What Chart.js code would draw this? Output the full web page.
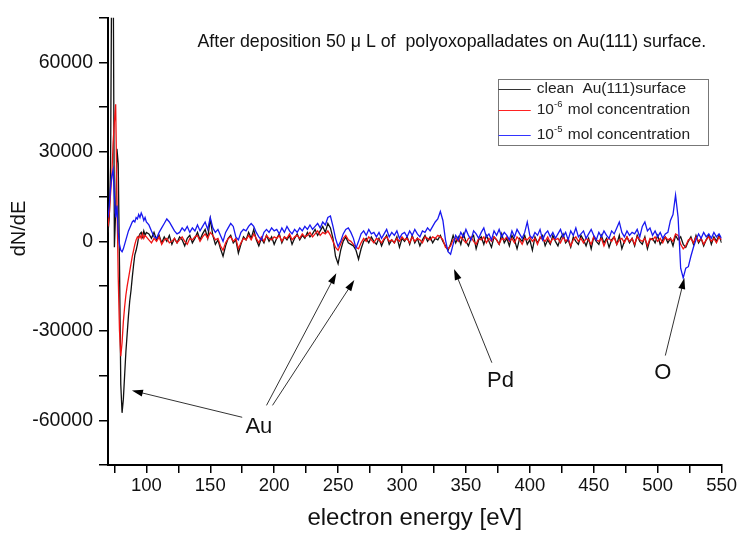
<!DOCTYPE html>
<html>
<head>
<meta charset="utf-8">
<script src="https://cdn.jsdelivr.net/npm/chart.js@4.4.0/dist/chart.umd.min.js"></script>
<style>
  html, body { margin: 0; padding: 0; background: #fff; }
</style>
</head>
<body>
<canvas id="spectrum" width="739" height="537"></canvas>
<script>
// energy grid: 1 eV steps up to 100 eV, 2 eV steps after that
const energies = [];
for (let e = 70; e <= 100; e++) energies.push(e);
for (let e = 102; e <= 550; e += 2) energies.push(e);

// clean Au(111) surface
const clean = [
  // 70-100
  3000, 8000, 25000, 100000, 100000, -2000, 10000, 31000, 26000, -8000,
  -48000, -57500, -53000, -45000, -37000, -31000, -25000, -20000, -16500, -12000,
  -8000, -4500, -3000, -1000, 1500, 2500, 3000, 1500, 3500, 2000, 3000,
  // 102-120
  2500, 1000, 3000, 500, 2000, -500, 1500, 0, 2000, -1000,
  // 122-140
  1000, -500, 1500, 500, -1500, 1000, 2000, -500, 1000, 3000,
  // 142-160
  500, 2500, 4000, 1000, 7500, 2000, -1000, 500, -2500, -5000,
  // 162-180
  -1500, 1000, 2000, -500, 500, -4000, -1000, 1500, 500, 3000,
  // 182-200
  1000, 4000, 500, -1500, 1000, -500, 2000, 0, 1500, -1000,
  // 202-220
  1000, 2500, -500, 1500, 500, 2000, -1000, 1000, 2500, 500,
  // 222-240
  2000, 1000, 3000, 1500, 2500, 4000, 2000, 3500, 5000, 3000,
  // 242-260
  6000, 4500, 1000, -5000, -7500, -3000, 0, 1500, -500, -1000,
  // 262-280
  -1500, -3000, -6000, -2500, 0, 1000, -500, 1500, 0, -1000,
  // 282-300
  1000, -1500, 500, 2000, -1000, 500, -500, 1500, -2000, 1000,
  // 302-320
  0, 1500, -1000, 2000, -500, 1000, -1500, 500, 2000, 0,
  // 322-340
  1500, -500, 1000, 500, 2000, 0, -1500, -3000, -1000, 2000,
  // 342-360
  -500, 1500, -1000, 2500, 0, -1500, 1000, 2000, -2500, 500,
  // 362-380
  1500, -1000, 2000, 0, -2000, 1500, 500, -1000, 2500, -500,
  // 382-400
  1000, -1500, 2000, 500, -2500, 1000, 0, 2000, -1000, 500,
  // 402-420
  -3000, 1500, -500, 1000, 2000, -1500, 500, -1000, 2000, 0,
  // 422-440
  -1500, 1000, 2500, -500, 500, -2000, 1500, 0, -1000, 2000,
  // 442-460
  500, -1500, 1000, -2500, 1500, 0, -1000, 2000, -500, 1000,
  // 462-480
  -2000, 500, 1500, -1000, 2000, -2500, 0, 1500, -500, 1000,
  // 482-500
  -1500, 2000, 0, -1000, 1500, -2500, 500, 1000, -500, 2000,
  // 502-520
  -1000, 500, 1500, -500, 1000, -1500, 2000, 500, 1500, -1000,
  // 522-540
  -2000, 0, 1500, -1000, 2000, -500, 1000, -1500, 500, 2000,
  // 542-550
  -1000, 1500, 0, 2000, -500
];

// 10^-6 mol concentration
const conc6 = [
  // 70-100
  5000, 9000, 16000, 22000, 33000, 40000, 46000, 15000, -12000, -30000,
  -38500, -34000, -27000, -22000, -18000, -15000, -12500, -10000, -7500, -5000,
  -3000, -1000, 500, 1500, 1000, 2000, 1000, 2500, 1000, 2000, 1500,
  // 102-120
  500, -500, 1000, 0, 1500, -1000, 500, 1000, -500, 0,
  // 122-140
  1000, -500, 500, 1500, 0, -1000, 1000, 500, 1500, 2000,
  // 142-160
  0, 1500, 2500, 1000, 3000, 2000, 500, 1000, -1500, -3000,
  // 162-180
  -500, 1000, 1500, 0, 1000, -2500, -500, 1000, 500, 2000,
  // 182-200
  500, 2500, 1000, -500, 1500, 0, 2000, 1000, 500, 1500,
  // 202-220
  1000, 2000, 0, 1500, 1000, 2500, 500, 1500, 2000, 1000,
  // 222-240
  2500, 1500, 2000, 3000, 1500, 2500, 3500, 2000, 3000, 2500,
  // 242-260
  3500, 2000, 0, -2000, -3000, -1000, 1000, 2000, 500, 0,
  // 262-280
  -1000, -2000, -2500, -500, 1000, 0, 1500, 500, -500, 1000,
  // 282-300
  500, -500, 1000, 1500, 0, 500, -500, 1000, 0, 1500,
  // 302-320
  500, 1000, -500, 1500, 0, 1000, 500, -500, 1500, 1000,
  // 322-340
  500, 1500, 1000, 2000, 1500, 500, -2000, -2500, -1500, 500,
  // 342-360
  1000, 0, 1500, 500, -500, 1000, 1500, 0, -1000, 1000,
  // 362-380
  500, 1500, -500, 1000, 0, 1500, 500, -1000, 1000, 500,
  // 382-400
  1500, 0, 1000, -500, 1500, 500, -1000, 1000, 500, 1500,
  // 402-420
  0, 1000, -1000, 1500, 500, 0, 1500, -500, 1000, 500,
  // 422-440
  1000, -500, 1500, 0, 1000, -1500, 500, 1500, 0, 1000,
  // 442-460
  -500, 1000, 500, -1000, 1500, 500, 0, 1000, -1500, 500,
  // 462-480
  1000, 0, 1500, -1000, 500, 1000, -500, 1500, 0, 1000,
  // 482-500
  -1000, 1500, 500, 0, 1000, -1500, 1000, 500, 1500, 0,
  // 502-520
  1000, -500, 1500, 500, 1000, 0, 2500, 2000, -1000, -2500,
  // 522-540
  -1500, 500, 1000, -500, 1500, 0, 1000, -1000, 500, 1500,
  // 542-550
  0, 1000, -500, 1500, 500
];

// 10^-5 mol concentration
const conc5 = [
  // 70-100
  8000, 12000, 18000, 22000, 24000, 15000, 8000, 12000, 3000, -1000,
  -3000, -3500, -2500, -1000, 500, 2000, 3500, 4500, 5500, 6500,
  7000, 6500, 8000, 7500, 9000, 8000, 9500, 8500, 7000, 8000, 6500,
  // 102-120
  5500, 3500, 1500, 1000, 3000, 4500, 6000, 7500, 6500, 5000,
  // 122-140
  3500, 2500, 3000, 4500, 3500, 5000, 3000, 4500, 3500, 5500,
  // 142-160
  3500, 5000, 6500, 4000, 8000, 4500, 3000, 4000, 2000, 0,
  // 162-180
  3000, 4500, 6000, 5000, 1500, 500, 3000, 4000, 3500, 5000,
  // 182-200
  6000, 5000, 3000, 1500, 500, 3000, 4000, 3000, 4500, 3500,
  // 202-220
  4000, 2500, 4500, 3000, 5000, 3500, 2500, 4000, 3000, 4500,
  // 222-240
  3500, 5000, 4000, 5500, 4000, 5000, 6000, 4500, 6500, 5500,
  // 242-260
  8000, 8500, 5000, 1000, -1700, 0, 2500, 4000, 4500, 3000,
  // 262-280
  1000, -2300, 0, 2500, 3500, 2000, 4000, 2500, 3000, 1500,
  // 282-300
  3000, 1000, 2500, 4000, 1500, 3000, 2000, 3500, 1000, 2500,
  // 302-320
  3000, 1500, 3500, 2000, 4000, 2500, 1500, 3500, 3000, 4500,
  // 322-340
  3500, 5000, 6500, 7500, 10000, 7000, 500, -3500, -4300, -1000,
  // 342-360
  2000, 500, 3000, 1500, 4000, 2000, 500, 3500, 2500, 1000,
  // 362-380
  3000, 4500, 1500, 2500, 500, 3500, 2000, 4000, 1500, 3000,
  // 382-400
  2000, 500, 3500, 1500, 4000, 2500, 1000, 3000, 6500, 2000,
  // 402-420
  1000, 3000, 2000, 4000, 500, 2500, 3500, 1500, 3000, 1000,
  // 422-440
  2500, 4000, 1500, 3000, 500, 3500, 2000, 4500, 1500, 2500,
  // 442-460
  3500, 1000, 2500, 4000, 2000, 500, 3000, 1500, 3500, 2000,
  // 462-480
  1000, 3500, 2500, 4500, 6500, 3000, 1500, 3500, 2000, 3000,
  // 482-500
  2500, 4000, 1500, 5000, 6500, 3500, 4500, 2000, 3500, 1500,
  // 502-520
  3000, 1000, 2500, 3000, 7000, 9000, 15500, 8000, -9000, -12300,
  // 522-540
  -9000, -8500, -5000, -2000, 500, 2500, 1000, 3000, 1500, 2500,
  // 542-550
  1000, 3000, 1500, 2500, 1000
];

const FONT = '"Liberation Sans", Arial, sans-serif';

const titleText = "After deposition 50 \u03bc L of  polyoxopalladates on Au(111) surface.";
const titleAt = [140, 66700]; // [eV, dN/dE]
const yTitle = { text: "dN/dE", y: 4300 };

// peak labels and their arrows, in data units
const peakLabels = [
  { text: "Au", x: 188, y: -62300 },
  { text: "Pd", x: 377, y: -46700 },
  { text: "O", x: 504, y: -44000 }
];
const arrows = [
  { from: [175, -59000], to: [88.7, -50000] },
  { from: [194, -55000], to: [248.6, -10700] },
  { from: [198.7, -55000], to: [262.7, -13000] },
  { from: [370.3, -40700], to: [340.7, -9300] },
  { from: [506, -38300], to: [520.9, -12300] }
];

// legend box (data units)
const legendBox = { left: 375, right: 539, top: 54300, bottom: 32300, lineEnd: 400.7, textAt: 405.4 };
const legendRows = [
  { y: 51000, color: "#333", parts: ["clean  Au(111)surface"] },
  { y: 44000, color: "#f22", parts: ["10", "-6", " mol concentration"] },
  { y: 35700, color: "#33f", parts: ["10", "-5", " mol concentration"] }
];

const pts = (vals) => energies.map((e, i) => ({ x: e, y: vals[i] }));

function drawArrow(ctx, x0, y0, x1, y1) {
  const ang = Math.atan2(y1 - y0, x1 - x0);
  const len = 11, half = 3.5;
  ctx.strokeStyle = "#333";
  ctx.lineWidth = 1;
  ctx.beginPath();
  ctx.moveTo(x0, y0);
  ctx.lineTo(x1 - Math.cos(ang) * len * 0.8, y1 - Math.sin(ang) * len * 0.8);
  ctx.stroke();
  ctx.fillStyle = "#000";
  ctx.beginPath();
  ctx.moveTo(x1, y1);
  ctx.lineTo(x1 - Math.cos(ang) * len - Math.sin(ang) * half, y1 - Math.sin(ang) * len + Math.cos(ang) * half);
  ctx.lineTo(x1 - Math.cos(ang) * len + Math.sin(ang) * half, y1 - Math.sin(ang) * len - Math.cos(ang) * half);
  ctx.closePath();
  ctx.fill();
}

const overlay = {
  id: "overlay",
  afterDraw(chart) {
    const { ctx } = chart;
    const sx = chart.scales.x, sy = chart.scales.y;
    const px = (v) => sx.getPixelForValue(v);
    const py = (v) => sy.getPixelForValue(v);
    ctx.save();

    // y axis title
    ctx.fillStyle = "#111";
    ctx.font = "20px " + FONT;
    ctx.textAlign = "center";
    ctx.textBaseline = "middle";
    ctx.translate(sy.left + 19, py(yTitle.y));
    ctx.rotate(-Math.PI / 2);
    ctx.fillText(yTitle.text, 0, 0);
    ctx.setTransform(1, 0, 0, 1, 0, 0);

    ctx.font = "17.8px " + FONT;
    ctx.textAlign = "left";
    ctx.fillText(titleText, px(titleAt[0]), py(titleAt[1]));

    arrows.forEach((a) => drawArrow(ctx, px(a.from[0]), py(a.from[1]), px(a.to[0]), py(a.to[1])));

    ctx.fillStyle = "#111";
    ctx.font = "22px " + FONT;
    ctx.textAlign = "center";
    peakLabels.forEach((l) => ctx.fillText(l.text, px(l.x), py(l.y)));

    // legend
    const bl = Math.round(px(legendBox.left)) + 0.5, br = Math.round(px(legendBox.right)) + 0.5;
    const bt = Math.round(py(legendBox.top)) + 0.5, bb = Math.round(py(legendBox.bottom)) + 0.5;
    ctx.strokeStyle = "#777";
    ctx.lineWidth = 1;
    ctx.strokeRect(bl, bt, br - bl, bb - bt);
    ctx.textAlign = "left";
    legendRows.forEach((r) => {
      const y = Math.round(py(r.y));
      ctx.strokeStyle = r.color;
      ctx.lineWidth = 1;
      ctx.beginPath();
      ctx.moveTo(bl, y + 0.5);
      ctx.lineTo(px(legendBox.lineEnd), y + 0.5);
      ctx.stroke();
      let x = px(legendBox.textAt);
      ctx.fillStyle = "#222";
      r.parts.forEach((p, i) => {
        const sup = i === 1;
        ctx.font = (sup ? "9.5px " : "15.5px ") + FONT;
        ctx.fillText(p, x, sup ? y - 6 : y);
        x += ctx.measureText(p).width + (sup ? 1 : 0);
      });
    });
    ctx.restore();
  }
};

new Chart(document.getElementById("spectrum"), {
  type: "line",
  data: {
    datasets: [
      { label: "clean  Au(111)surface", data: pts(clean), borderColor: "#111", order: 2 },
      { label: "10-6 mol concentration", data: pts(conc6), borderColor: "#f01414", order: 1 },
      { label: "10-5 mol concentration", data: pts(conc5), borderColor: "#1818f0", order: 0 }
    ]
  },
  options: {
    responsive: false,
    animation: false,
    layout: { padding: { top: 15, right: 16, left: 0, bottom: 0 } },
    elements: { point: { radius: 0 }, line: { borderWidth: 1.3, tension: 0 } },
    plugins: { legend: { display: false }, tooltip: { enabled: false } },
    scales: {
      x: {
        type: "linear",
        min: 70,
        max: 550,
        border: { color: "#000", width: 2 },
        grid: { drawOnChartArea: false, color: "#000", tickLength: 8, lineWidth: 1.5 },
        ticks: {
          stepSize: 25,
          includeBounds: false,
          autoSkip: false,
          maxRotation: 0,
          padding: 2,
          color: "#111",
          font: { family: FONT, size: 18.5 },
          callback: (v) => (v % 50 === 0 ? String(v) : "")
        },
        title: { display: true, text: "electron energy [eV]", color: "#111", font: { family: FONT, size: 24 }, padding: { top: 8 } },
        afterFit: (s) => { s.height = 72; }
      },
      y: {
        min: -75000,
        max: 75000,
        border: { color: "#000", width: 2 },
        grid: { drawOnChartArea: false, color: "#000", tickLength: 9, lineWidth: 1.5 },
        ticks: {
          stepSize: 15000,
          autoSkip: false,
          padding: 6,
          color: "#111",
          font: { family: FONT, size: 19.5 },
          callback: (v) => (v % 30000 === 0 ? String(v) : "")
        },
        afterFit: (s) => { s.width = 108; }
      }
    }
  },
  plugins: [overlay]
});
</script>
</body>
</html>
